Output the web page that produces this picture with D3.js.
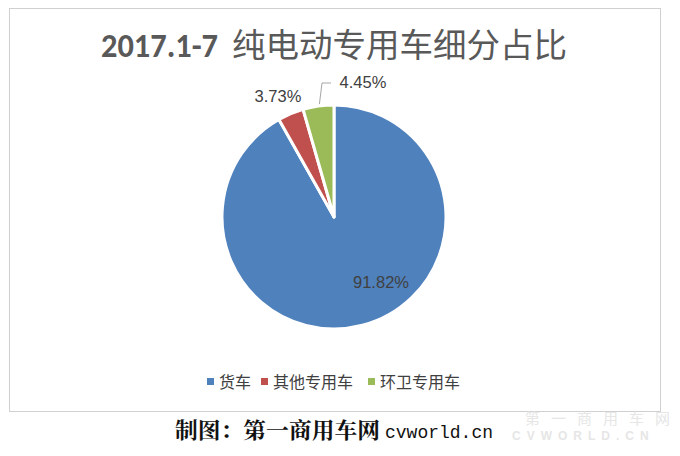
<!DOCTYPE html>
<html><head><meta charset="utf-8">
<script src="https://cdn.jsdelivr.net/npm/d3@7"></script>
<style>body{margin:0;background:#fff}</style>
</head><body>
<svg id="c" width="680" height="456"></svg>
<script>
const categories = ["货车", "其他专用车", "环卫专用车"];
const values = [91.82, 3.73, 4.45];
const colors = ["#4F81BD", "#C0504D", "#9BBB59"];
const labels = ["91.82%", "3.73%", "4.45%"];

const svg = d3.select("#c");
svg.append("rect").attr("x", 9.5).attr("y", 8.5).attr("width", 651).attr("height", 403)
  .attr("fill", "#fff").attr("stroke", "#d0d0d0");

// title
svg.append("text").attr("x", 101).attr("y", 57).attr("textLength", 117).attr("lengthAdjust", "spacingAndGlyphs")
  .attr("fill", "#595959").attr("font-size", 34)
  .attr("font-family", "Carlito, 'Liberation Sans', sans-serif").attr("font-weight", "bold").text("2017.1-7");
svg.append("text").attr("x", 232).attr("y", 57).attr("textLength", 335).attr("lengthAdjust", "spacingAndGlyphs")
  .attr("fill", "#595959").attr("font-size", 33)
  .attr("font-family", "'Noto Sans CJK SC', sans-serif").text("纯电动专用车细分占比");

const cx = 334, cy = 217, r = 112;
const pie = d3.pie().sort(null).value(d => d)(values);
const arc = d3.arc().innerRadius(0).outerRadius(r);
const g = svg.append("g").attr("transform", `translate(${cx},${cy})`);
g.selectAll("path").data(pie).join("path")
  .attr("d", arc).attr("fill", (d, i) => colors[i])
  .attr("stroke", "#fff").attr("stroke-width", 3).attr("stroke-linejoin", "round");

const lf = "'Liberation Sans', Arial, sans-serif";
// labels
const lpos = [[381, 288], [278, 102], [363, 88]];
g.selectAll("text.lbl").data(pie).join("text")
  .attr("x", (d, i) => lpos[i][0] - cx).attr("y", (d, i) => lpos[i][1] - cy)
  .attr("text-anchor", "middle").attr("font-family", lf).attr("font-size", 16.5)
  .attr("fill", "#404040").text((d, i) => labels[i]);

// leader line for green slice
const edge = d3.arc().innerRadius(r).outerRadius(r).centroid(pie[2]);
g.append("polyline")
  .attr("points", [[edge[0] + 1, edge[1] - 2], [322 - cx, 83 - cy], [331 - cx, 83 - cy]].map(p => p.join(",")).join(" "))
  .attr("fill", "none").attr("stroke", "#a6a6a6").attr("stroke-width", 1);

// legend
const leg = svg.append("g").attr("font-family", "'Noto Sans CJK SC', sans-serif").attr("font-size", 16).attr("fill", "#404040");
const lx = [207, 261, 368];
categories.forEach((c, i) => {
  leg.append("rect").attr("x", lx[i]).attr("y", 378).attr("width", 7).attr("height", 7).attr("fill", colors[i]);
  leg.append("text").attr("x", lx[i] + 12).attr("y", 388).text(c);
});

// footer
svg.append("text").attr("x", 175).attr("y", 438).attr("textLength", 205).attr("lengthAdjust", "spacingAndGlyphs")
  .attr("font-family", "'Noto Serif CJK SC', 'Noto Sans CJK SC', serif")
  .attr("font-weight", "bold").attr("font-size", 22).attr("fill", "#111")
  .text("制图：第一商用车网");
svg.append("text").attr("x", 385).attr("y", 438).attr("textLength", 108).attr("lengthAdjust", "spacingAndGlyphs")
  .attr("font-family", "'Liberation Mono', 'DejaVu Sans Mono', monospace")
  .attr("font-size", 19).attr("fill", "#111").text("cvworld.cn");

// watermark
svg.append("text").attr("x", 525).attr("y", 424).attr("font-family", "'Noto Sans CJK SC', sans-serif")
  .attr("font-size", 15).attr("fill", "#e6e6e6").attr("letter-spacing", 11).text("第一商用车网");
svg.append("text").attr("x", 512).attr("y", 440).attr("font-family", "'Liberation Sans', sans-serif")
  .attr("font-weight", "bold").attr("font-size", 12).attr("fill", "#e6e6e6").attr("letter-spacing", 6).text("CVWORLD.CN");
</script>
</body></html>
